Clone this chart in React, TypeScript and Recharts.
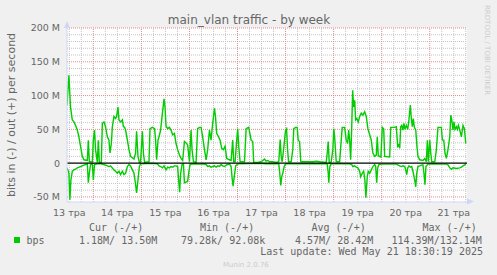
import { LineChart, Line, XAxis, YAxis, CartesianGrid, ReferenceLine } from 'recharts';

// hours since 13 May 00:00, values in Mbit/s
const outHours = [
  10.8, 11.8, 12.6, 13.5, 14.3, 15.1, 16.0, 16.8, 17.6, 18.5, 19.3, 21.0, 21.5, 22.0, 23.5, 24.0, 24.6, 25.1, 26.0, 26.5,
  27.0, 28.0, 28.5, 29.3, 30.1, 31.0, 31.8, 32.3, 33.0, 33.5, 34.3, 35.1, 35.6, 36.3, 36.8, 37.6, 38.5, 39.0, 39.6, 40.1,
  41.0, 41.8, 42.6, 44.3, 45.1, 45.6, 46.3, 47.0, 47.6, 48.5, 49.0, 49.6, 51.8, 52.3, 53.5, 54.6, 55.1, 55.6, 56.3, 56.8,
  57.6, 58.5, 59.3, 59.8, 60.3, 61.1, 62.0, 62.8, 63.6, 64.5, 65.3, 66.1, 67.0, 67.8, 68.6, 69.5, 70.3, 71.1, 72.0, 72.8,
  73.3, 74.0, 75.3, 76.1, 77.0, 77.8, 78.6, 79.5, 80.3, 81.1, 82.0, 82.8, 83.6, 84.5, 85.0, 85.6, 86.5, 87.3, 88.1, 89.0,
  89.8, 90.6, 92.0, 92.8, 93.6, 94.1, 94.8, 95.6, 96.1, 96.6, 97.3, 99.5, 100.3, 101.6, 102.8, 103.6, 104.1, 106.1, 107.8, 108.6,
  109.5, 110.3, 111.1, 112.0, 113.6, 115.3, 116.6, 117.3, 117.8, 118.3, 119.0, 119.5, 120.0, 120.5, 121.0, 121.5, 122.8, 123.6, 124.1, 125.0,
  125.8, 126.3, 127.0, 127.6, 130.3, 133.6, 135.3, 137.0, 140.3, 140.8, 141.3, 141.8, 142.8, 143.6, 144.1, 144.6, 145.3, 147.0, 147.8, 148.3,
  149.5, 150.3, 151.0, 151.5, 152.0, 152.5, 153.0, 153.5, 154.0, 154.5, 155.0, 155.6, 156.3, 157.0, 157.8, 158.6, 159.5, 160.3, 161.1, 162.0,
  162.8, 163.6, 164.5, 165.3, 165.8, 166.3, 167.6, 168.3, 169.0, 169.5, 172.0, 172.5, 174.5, 175.3, 176.0, 176.5, 177.0, 177.5, 178.0, 178.6,
  179.1, 179.6, 180.3, 181.0, 181.6, 182.3, 182.8, 183.3, 183.8, 184.3, 185.0, 185.6, 186.1, 187.0, 188.6, 189.5, 190.3, 190.8, 191.3, 192.0,
  192.5, 193.0, 194.5, 195.3, 196.1, 197.8, 198.3, 199.0, 199.6, 200.3, 201.1, 202.0, 202.5, 203.0, 203.6, 204.1, 204.6, 205.3, 205.8, 206.3,
  207.0, 207.8, 208.6, 209.3, 210.0,
];
const outMbps = [
  85, 130, 83, 64, 61, 56, 49, 39, 25, 10, 5, 4, 34, 2, 2, 34, 49, 20, 1, 34,
  1, 1, 59, 61, 54, 39, 34, 15, 29, 54, 69, 66, 69, 83, 64, 61, 64, 54, 53, 49,
  34, 20, 10, 6, 15, 47, 10, 1, 2, 47, 15, 1, 2, 51, 53, 51, 34, 5, 34, 39,
  49, 74, 95, 83, 55, 51, 53, 49, 42, 44, 29, 20, 12, 7, 4, 32, 30, 27, 2, 49,
  20, 2, 1, 51, 53, 53, 39, 20, 5, 20, 49, 34, 59, 81, 69, 44, 39, 34, 22, 20,
  25, 7, 5, 4, 34, 2, 2, 34, 51, 25, 2, 2, 51, 53, 34, 32, 1, 1, 2, 4,
  6, 3, 4, 2, 2, 1, 2, 35, 10, 2, 20, 34, 49, 51, 20, 2, 2, 20, 51, 53,
  53, 34, 32, 2, 2, 2, 3, 2, 1, 15, 32, 0, 2, 20, 51, 34, 2, 2, 34, 53,
  53, 34, 29, 49, 34, 5, 49, 108, 83, 93, 64, 66, 61, 69, 74, 71, 76, 69, 51, 42,
  34, 15, 10, 12, 39, 11, 9, 53, 51, 10, 9, 53, 53, 54, 25, 27, 22, 54, 56, 49,
  59, 50, 56, 50, 64, 86, 66, 54, 66, 53, 49, 25, 10, 5, 4, 7, 2, 34, 2, 34,
  15, 2, 2, 20, 53, 53, 34, 34, 15, 7, 20, 39, 71, 64, 49, 61, 50, 54, 50, 56,
  49, 39, 56, 51, 29,
];

const inHours = [
  10.8, 11.3, 11.8, 12.3, 12.8, 13.5, 14.3, 15.1, 16.0, 17.6, 19.3, 21.0, 21.5, 22.0, 22.6, 23.5, 24.0, 24.6, 26.0, 27.6,
  29.3, 31.0, 31.8, 32.6, 34.3, 35.1, 36.0, 36.8, 37.6, 38.5, 39.3, 40.1, 41.0, 41.8, 42.6, 43.5, 44.3, 45.0, 45.6, 46.3,
  47.0, 47.6, 51.0, 54.3, 56.0, 56.8, 57.6, 58.5, 59.3, 60.3, 61.1, 62.0, 62.8, 63.6, 64.5, 65.3, 66.1, 66.6, 67.1, 67.6,
  68.3, 69.0, 69.5, 70.3, 71.1, 71.6, 72.3, 73.6, 77.0, 78.6, 80.3, 81.1, 82.0, 82.8, 83.6, 84.5, 85.3, 86.1, 87.0, 87.8,
  88.6, 89.5, 90.3, 91.1, 92.0, 92.8, 93.3, 93.8, 94.5, 95.1, 96.1, 102.0, 108.6, 110.3, 116.6, 117.1, 117.6, 118.1, 118.6, 119.3,
  120.0, 127.0, 137.0, 140.8, 141.3, 141.6, 142.1, 142.8, 152.0, 153.0, 153.6, 154.5, 155.3, 156.1, 157.0, 157.5, 158.3, 159.0, 159.6, 160.1,
  160.8, 161.3, 162.0, 162.8, 163.6, 164.5, 165.0, 165.5, 166.0, 166.6, 167.8, 175.3, 177.0, 177.8, 178.6, 179.5, 180.0, 180.5, 181.0, 181.6,
  182.3, 183.0, 183.6, 184.5, 185.0, 185.5, 186.1, 187.0, 187.8, 188.6, 189.1, 189.6, 190.1, 191.1, 193.6, 200.3, 201.1, 202.0, 202.8, 203.6,
  205.3, 207.0, 207.8, 208.6, 209.5, 210.0,
];
const inMbps = [
  -7, -10, -15, -54, -25, -12, -10, -9, -7, -5, -3, -1, -29, -15, -2, -1, -25, -2, -1, -1,
  -2, -4, -5, -4, -10, -12, -15, -12, -17, -12, -17, -15, -5, -2, -4, -10, -15, -29, -44, -25,
  -5, -1, -0.5, -0.5, -1, -4, -5, -7, -4, -10, -6, -7, -5, -6, -4, -4, -5, -25, -43, -15,
  -2, -1, -29, -28, -27, -15, -2, -1, -1.5, -1, -2, -5, -4, -6, -5, -4, -6, -4, -5, -2,
  -4, -5, -3, -2, -1, -5, -22, -34, -17, -4, -1, -0.5, -0.5, -1, -1, -15, -33, -20, -15, -5,
  -1, -1, -0.5, -1, -15, -29, -5, -1, -1, -2, -5, -4, -6, -7, -12, -20, -15, -12, -25, -51,
  -20, -12, -15, -10, -5, -2, -5, -29, -7, -2, -1.5, -1.5, -4, -5, -4, -5, -10, -17, -7, -4,
  -6, -5, -12, -25, -35, -15, -5, -4, -3, -2.5, -15, -32, -5, -1.5, -1, -1.5, -2.5, -7, -9, -7,
  -8, -7, -6, -4, -2.5, -1,
];

const dayLabels = ['13 тра', '14 тра', '15 тра', '16 тра', '17 тра', '18 тра', '19 тра', '20 тра', '21 тра'];
const yTicks = [-50, 0, 50, 100, 150, 200];

const outData = outHours.map((h, i) => ({ h, v: outMbps[i] }));
const inData = inHours.map((h, i) => ({ h, v: inMbps[i] }));
const labelHours = dayLabels.map((_, i) => i * 24 + 12);

const X_MIN = 10.85;
const X_MAX = 210.6;
const MINOR = '#c4c4c4';
const MAJOR = '#e08c8c';
const AXIS = '#CFD6F8';
const TEXT = '#666666';

const minorY: number[] = [];
for (let v = -50; v <= 200; v += 10) if (v % 50 !== 0) minorY.push(v);
const majorY = [-50, 50, 100, 150, 200];
const minorX: number[] = [];
const majorX: number[] = [];
for (let h = 0; h <= X_MAX; h += 6) {
  if (h < X_MIN) continue;
  if (h % 24 === 0) majorX.push(h);
  else minorX.push(h);
}

const mono = { fontFamily: 'DejaVu Sans Mono', fontSize: 10, fill: TEXT };

export default function App() {
  return (
    <div style={{ position: 'relative', width: 497, height: 275, background: '#f0f0f0', overflow: 'hidden' }}>
      <style>{'body{margin:0}'}</style>
      <LineChart width={497} height={275} margin={{ top: 28, right: 30, bottom: 48, left: 7 }}>
        <CartesianGrid fill="#ffffff" fillOpacity={1} horizontal={false} vertical={false} stroke="none" />
        <XAxis
          type="number"
          dataKey="h"
          domain={[X_MIN, X_MAX]}
          allowDataOverflow
          ticks={labelHours}
          tickFormatter={(h: number) => dayLabels[Math.round((h - 12) / 24)]}
          interval={0}
          height={25}
          tickLine={false}
          tickSize={5}
          tickMargin={2}
          axisLine={{ stroke: AXIS }}
          tick={{ fill: TEXT, fontSize: 9.5, fontFamily: 'DejaVu Sans' }}
        />
        <YAxis
          type="number"
          domain={[-57.5, 200]}
          allowDataOverflow
          ticks={yTicks}
          interval={0}
          width={60}
          tickLine={false}
          tickSize={5}
          tickMargin={2}
          axisLine={{ stroke: AXIS }}
          tickFormatter={(v: number) => (v === 0 ? '0' : `${v} M`)}
          tick={{ fill: TEXT, fontSize: 9.5, fontFamily: 'DejaVu Sans' }}
        />
        {minorY.map((v) => (
          <ReferenceLine key={`my${v}`} y={v} stroke={MINOR} strokeDasharray="1 1" />
        ))}
        {minorX.map((h) => (
          <ReferenceLine key={`mx${h}`} x={h} stroke={MINOR} strokeDasharray="1 1" />
        ))}
        {majorY.map((v) => (
          <ReferenceLine key={`My${v}`} y={v} stroke={MAJOR} strokeDasharray="1 1" />
        ))}
        {majorX.map((h) => (
          <ReferenceLine key={`Mx${h}`} x={h} stroke={MAJOR} strokeDasharray="1 1" />
        ))}
        <Line data={outData} dataKey="v" type="linear" stroke="#00cc00" strokeWidth={1.4} dot={false} isAnimationActive={false} />
        <Line data={inData} dataKey="v" type="linear" stroke="#00cc00" strokeWidth={1.4} dot={false} isAnimationActive={false} />
        <ReferenceLine y={0} stroke="#000000" strokeWidth={1.2} />
      </LineChart>
      <svg width={497} height={275} style={{ position: 'absolute', left: 0, top: 0, pointerEvents: 'none' }}>
        <text x={249} y={24} textAnchor="middle" style={{ fontFamily: 'DejaVu Sans', fontSize: 12, fill: TEXT }}>
          main_vlan traffic - by week
        </text>
        <text transform="translate(15,115) rotate(-90)" textAnchor="middle" style={{ fontFamily: 'DejaVu Sans', fontSize: 11, fill: TEXT }}>
          bits in (-) / out (+) per second
        </text>
        <text transform="translate(485,5) rotate(90)" style={{ fontFamily: 'DejaVu Sans', fontSize: 7, fill: '#cccccc' }}>
          RRDTOOL / TOBI OETIKER
        </text>
        <polygon points="64,28 70,28 67,21" fill={AXIS} />
        <polygon points="467,198.5 467,204.5 474,201.5" fill={AXIS} />
        <text x={89} y={231} style={mono} xmlSpace="preserve">Cur (-/+)</text>
        <text x={200} y={231} style={mono} xmlSpace="preserve">Min (-/+)</text>
        <text x={311.5} y={231} style={mono} xmlSpace="preserve">Avg (-/+)</text>
        <text x={422.5} y={231} style={mono} xmlSpace="preserve">Max (-/+)</text>
        <rect x={14} y={237} width={6} height={6} fill="#00cc00" />
        <text x={26.5} y={243.5} style={mono}>bps</text>
        <text x={79} y={243.5} style={mono} xmlSpace="preserve">1.18M/ 13.50M</text>
        <text x={181} y={243.5} style={mono} xmlSpace="preserve">79.28k/ 92.08k</text>
        <text x={295} y={243.5} style={mono} xmlSpace="preserve">4.57M/ 28.42M</text>
        <text x={391.5} y={243.5} style={mono} xmlSpace="preserve">114.39M/132.14M</text>
        <text x={483} y={254.5} textAnchor="end" style={mono} xmlSpace="preserve">Last update: Wed May 21 18:30:19 2025</text>
        <text x={223} y={266.5} style={{ fontFamily: 'DejaVu Sans', fontSize: 7, fill: '#cccccc' }}>Munin 2.0.76</text>
      </svg>
    </div>
  );
}
